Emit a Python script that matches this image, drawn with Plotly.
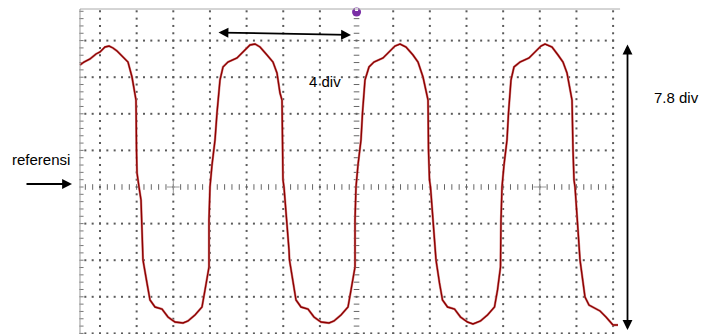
import numpy as np
import plotly.graph_objects as go

# Oscilloscope trace (units: divisions)
t_div = [
    -0.546, -0.437, -0.273, -0.109, 0.000, 0.136, 0.246, 0.355, 0.464, 0.600, 0.764, 0.873, 0.955, 0.982,
    0.996, 1.010, 1.064, 1.119, 1.146, 1.173, 1.282, 1.364, 1.501, 1.692, 1.855, 2.046, 2.265, 2.401,
    2.592, 2.783, 2.865, 2.920,
    2.974, 2.974, 3.001, 3.056, 3.138, 3.192, 3.274, 3.356, 3.492, 3.738, 3.902, 4.093, 4.229, 4.366,
    4.557, 4.720, 4.829, 4.911, 4.966, 4.980, 4.993, 5.020, 5.075, 5.102, 5.157, 5.170, 5.266, 5.348,
    5.484, 5.675, 5.839, 6.030, 6.248, 6.385, 6.576, 6.767, 6.849, 6.903,
    6.958, 6.958, 6.985, 7.039, 7.121, 7.162, 7.230, 7.340, 7.476, 7.722, 7.885, 8.049, 8.186, 8.349,
    8.540, 8.677, 8.813, 8.895, 8.950, 8.963, 8.990, 9.018, 9.086, 9.141, 9.168, 9.263, 9.345, 9.482,
    9.673, 9.836, 10.027, 10.177, 10.382, 10.573, 10.764, 10.846, 10.900,
    10.928, 10.941, 10.969, 11.023, 11.105, 11.146, 11.214, 11.296, 11.460, 11.705, 11.869, 12.033,
    12.142, 12.333, 12.497, 12.633, 12.742, 12.824, 12.879, 12.906, 12.933, 12.961, 13.015, 13.042,
    13.097, 13.179, 13.233, 13.342, 13.479, 13.643, 13.806, 13.997, 14.134,
]
v_div = [
    3.333, 3.415, 3.497, 3.634, 3.689, 3.825, 3.852, 3.798, 3.716, 3.579, 3.415, 3.005, 2.568, 2.377,
    1.011, 0.383, 0.000, -0.355, -1.175, -1.995, -2.623, -3.087, -3.279, -3.333, -3.552, -3.689, -3.716, -3.661,
    -3.497, -3.279, -2.814, -2.459,
    -2.186, -0.902, 0.000, 0.601, 1.284, 2.022, 2.923, 3.279, 3.415, 3.525, 3.689, 3.880, 3.907, 3.825,
    3.607, 3.415, 3.115, 2.568, 2.377, 1.011, 0.191, 0.000, -0.628, -0.984, -1.721, -1.995, -2.623, -3.087,
    -3.279, -3.333, -3.552, -3.689, -3.716, -3.661, -3.497, -3.279, -2.814, -2.459,
    -2.186, -0.902, 0.000, 0.601, 1.284, 2.022, 2.923, 3.279, 3.415, 3.525, 3.689, 3.852, 3.907, 3.825,
    3.607, 3.415, 3.005, 2.568, 2.377, 1.011, 0.191, 0.000, -0.984, -1.721, -1.995, -2.623, -3.087, -3.279,
    -3.333, -3.552, -3.689, -3.743, -3.661, -3.497, -3.279, -2.814, -2.459,
    -2.186, -0.902, 0.000, 0.601, 1.284, 2.022, 2.923, 3.279, 3.415, 3.525, 3.689, 3.852,
    3.907, 3.825, 3.607, 3.415, 3.115, 2.650, 2.377, 1.011, 0.191, 0.000, -0.628, -1.175,
    -1.995, -2.623, -3.005, -3.224, -3.306, -3.388, -3.552, -3.770, -3.770,
]

# Annotation texts
period_label = "4 div"
amplitude_label = "7.8 div"
reference_label = "referensi"

# Graticule extent (divisions)
x_major = list(range(0, 15))
y_major = list(range(-4, 5))
x_left, x_right, y_top = -0.546, 14.19, 4.863
center_x, center_y = 7, 0
cross_x = [2, 12]

XR = [-2.7285, 16.753]
YR = [-4.016, 5.109]

fig = go.Figure()

# horizontal dotted lines
minor_x = np.round(np.arange(-0.4, 14.01, 0.2), 3)
hx, hy = [], []
for yv in y_major:
    if yv == center_y:
        continue
    hx += list(minor_x)
    hy += [yv] * len(minor_x)
# vertical dotted lines
minor_y = np.round(np.arange(-4.0, 4.81, 0.2), 3)
for xv in x_major:
    if xv == center_x:
        continue
    hx += [xv] * len(minor_y)
    hy += list(minor_y)
fig.add_trace(go.Scatter(x=hx, y=hy, mode="markers",
                         marker=dict(symbol="square", size=2, color="#5a5a5a", line=dict(width=0)),
                         hoverinfo="skip", showlegend=False))

# center lines with tick marks
fig.add_trace(go.Scatter(x=list(minor_x), y=[center_y] * len(minor_x), mode="markers",
                         marker=dict(symbol="line-ns", size=4, line=dict(width=1, color="#666666")),
                         hoverinfo="skip", showlegend=False))
fig.add_trace(go.Scatter(x=[center_x] * len(minor_y), y=list(minor_y), mode="markers",
                         marker=dict(symbol="line-ew", size=4, line=dict(width=1, color="#666666")),
                         hoverinfo="skip", showlegend=False))
# left frame ticks
fig.add_trace(go.Scatter(x=[x_left + 0.04] * len(minor_y), y=list(minor_y), mode="markers",
                         marker=dict(symbol="line-ew", size=3, line=dict(width=1, color="#777777")),
                         hoverinfo="skip", showlegend=False))
# crosses
fig.add_trace(go.Scatter(x=cross_x, y=[center_y] * len(cross_x), mode="markers",
                         marker=dict(symbol="cross-thin", size=9, line=dict(width=1, color="#999999")),
                         hoverinfo="skip", showlegend=False))

# frame lines
fig.add_shape(type="line", x0=x_left, x1=x_right, y0=y_top, y1=y_top, xref="x", yref="y",
              line=dict(color="#aaaaaa", width=1))
fig.add_shape(type="line", x0=x_left, x1=x_left, y0=YR[0], y1=y_top, xref="x", yref="y",
              line=dict(color="#999999", width=1))

# trace
fig.add_trace(go.Scatter(x=t_div, y=v_div, mode="lines",
                         line=dict(color="#d89090", width=2.4), hoverinfo="skip", showlegend=False))
fig.add_trace(go.Scatter(x=t_div, y=v_div, mode="lines",
                         line=dict(color="#8e0000", width=1.4), hoverinfo="skip", showlegend=False))

# trigger marker
fig.add_trace(go.Scatter(x=[center_x], y=[4.78], mode="markers",
                         marker=dict(symbol="circle", size=9, color="#7a2ea6", line=dict(width=0)),
                         hoverinfo="skip", showlegend=False))
fig.add_trace(go.Scatter(x=[center_x], y=[4.85], mode="markers",
                         marker=dict(symbol="square", size=3, color="#ffffff", line=dict(width=0)),
                         hoverinfo="skip", showlegend=False))

font = dict(family="Liberation Sans, Arial, sans-serif", size=15, color="black")
ann = []
ann.append(dict(x=6.849, y=4.153, ax=3.192, ay=4.221, xref="x", yref="y", axref="x", ayref="y",
                text="", showarrow=True, arrowhead=2, arrowsize=1.1, arrowwidth=1.8, arrowcolor="black",
                arrowside="end+start", standoff=0, startstandoff=0))
ann.append(dict(x=14.393, y=-3.907, ax=14.393, ay=3.934, xref="x", yref="y", axref="x", ayref="y",
                text="", showarrow=True, arrowhead=2, arrowsize=1.1, arrowwidth=1.8, arrowcolor="black",
                arrowside="end+start", standoff=0, startstandoff=0))
ann.append(dict(x=-0.764, y=0.082, ax=-2.046, ay=0.082, xref="x", yref="y", axref="x", ayref="y",
                text="", showarrow=True, arrowhead=2, arrowsize=1.1, arrowwidth=1.8, arrowcolor="black",
                standoff=0))
ann.append(dict(x=6.139, y=2.896, xref="x", yref="y", text=period_label, showarrow=False, font=font))
ann.append(dict(x=15.72, y=2.459, xref="x", yref="y", text=amplitude_label, showarrow=False, font=font))
ann.append(dict(x=-1.61, y=0.738, xref="x", yref="y", text=reference_label, showarrow=False, font=font))

fig.update_layout(
    width=714, height=334, margin=dict(l=0, r=0, t=0, b=0),
    paper_bgcolor="white", plot_bgcolor="white",
    xaxis=dict(range=XR, visible=False, showgrid=False, zeroline=False, fixedrange=True),
    yaxis=dict(range=YR, visible=False, showgrid=False, zeroline=False, fixedrange=True),
    annotations=ann, showlegend=False,
)

fig.write_html("out.html")
